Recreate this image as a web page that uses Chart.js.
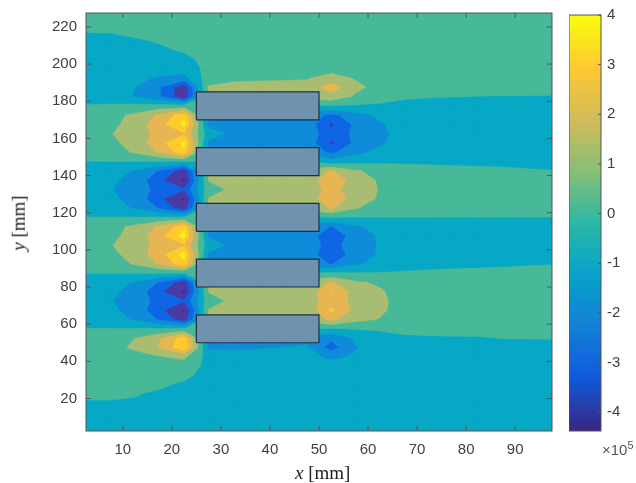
<!DOCTYPE html>
<html>
<head>
<meta charset="utf-8">
<title>Field map</title>
<script src="https://cdn.jsdelivr.net/npm/chart.js@4"></script>
<style>
    html, body { margin: 0; padding: 0; background: #fff; }
    #page { position: relative; width: 636px; height: 483px; overflow: hidden; }
    canvas { position: absolute; top: 0; }
    #fieldChart { left: 0; }
    #barChart { left: 569px; }
    .axisName { position: absolute; font-family: "Liberation Serif", serif; font-size: 19px; color: #222; white-space: nowrap; }
    #xName { left: 295px; top: 462px; }
    #yName { left: -9px; top: 212px; transform: rotate(-90deg); }
    #scaleNote { position: absolute; left: 602px; top: 441px; font-family: "Liberation Sans", sans-serif; font-size: 15px; color: #555; white-space: nowrap; }
    #scaleNote sup { font-size: 11px; line-height: 0; }
</style>
</head>
<body>
<div id="page">
    <canvas id="fieldChart" width="560" height="483"></canvas>
    <canvas id="barChart" width="67" height="483"></canvas>
    <div class="axisName" id="xName"><i>x</i> [mm]</div>
    <div class="axisName" id="yName"><i>y</i> [mm]</div>
    <div id="scaleNote">&times;10<sup>5</sup></div>
</div>
<script>
// Measurement grid, mm
const xNodes = [2.5, 7.5, 12.5, 17.5, 22.5, 27.5, 32.5, 37.5, 42.5, 47.5, 52.5, 57.5, 62.5, 67.5, 72.5, 77.5, 82.5, 87.5, 92.5, 97.5];
const yNodes = [227.5, 222.5, 217.5, 212.5, 207.5, 202.5, 197.5, 192.5, 187.5, 182.5, 177.5, 172.5, 167.5, 162.5, 157.5, 152.5, 147.5, 142.5, 137.5, 132.5, 127.5, 122.5, 117.5, 112.5, 107.5, 102.5, 97.5, 92.5, 87.5, 82.5, 77.5, 72.5, 67.5, 62.5, 57.5, 52.5, 47.5, 42.5, 37.5, 32.5, 27.5, 22.5, 17.5, 12.5, 7.5, 2.5];

// Field values in units of 10^5, one row per yNodes entry
const fieldValues = [
    [.3, .3, .3, .3, .3, .3, .3, .3, .3, .3, .3, .3, .3, .3, .3, .3, .3, .3, .3, .3],
    [.25, .25, .25, .3, .3, .3, .3, .3, .3, .3, .3, .3, .3, .3, .3, .3, .3, .3, .3, .3],
    [.03, .06, .2, .25, .3, .3, .3, .3, .3, .3, .3, .3, .3, .3, .3, .3, .3, .3, .3, .3],
    [-.3, -.28, -.1, .08, .2, .3, .3, .3, .3, .3, .3, .3, .3, .3, .3, .3, .3, .3, .3, .3],
    [-.35, -.35, -.35, -.15, .1, .3, .3, .3, .3, .3, .3, .3, .3, .3, .3, .3, .3, .3, .3, .3],
    [-.4, -.4, -.4, -.4, -.25, .3, .3, .35, .35, .35, .4, .35, .3, .3, .3, .3, .3, .3, .3, .3],
    [-.4, -.42, -.45, -.5, -.5, .25, .45, .5, .55, .55, .6, .5, .4, .35, .3, .3, .3, .3, .3, .3],
    [-.35, -.45, -.7, -1.15, -1.3, .5, .75, .8, .85, .9, 1.4, .9, .6, .45, .35, .3, .3, .3, .3, .3],
    [-.4, -.55, -1, -1.95, -3.7, 1.1, 1.35, 1.4, 1.4, 1.4, 2.5, 1.25, .65, .45, .35, .3, .25, .22, .2, .2],
    [-.4, -.6, -1.05, -1.9, -3.8, 1, 1.3, 1.3, 1.3, 1.3, 1.7, .85, .25, .12, .05, .02, -.01, -.02, -.02, -.03],
    [.06, .15, .25, .3, .35, 0, 0, 0, 0, 0, -.05, -.1, -.1, -.25, -.3, -.35, -.35, -.35, -.35, -.35],
    [.4, .7, 1.2, 2.2, 3.6, -1.3, -1.3, -1.3, -1.3, -1.3, -2.3, -1.4, -.75, -.55, -.45, -.4, -.4, -.35, -.35, -.35],
    [.4, .8, 1.32, 2.68, 4, -1.2, -1.35, -1.35, -1.35, -1.35, -3.15, -1.75, -1.1, -.65, -.5, -.45, -.4, -.4, -.35, -.35],
    [.5, .95, 1.5, 2.3, 2.9, -.6, -1.2, -1.35, -1.35, -1.35, -2.7, -1.75, -1.15, -.75, -.5, -.45, -.4, -.4, -.35, -.35],
    [.4, .8, 1.32, 2.68, 4, -1.2, -1.35, -1.35, -1.35, -1.35, -3.15, -1.75, -1.1, -.65, -.5, -.45, -.4, -.4, -.35, -.35],
    [.3, .6, 1.1, 2.1, 3.6, -1.3, -1.3, -1.3, -1.3, -1.3, -2.2, -1.3, -.75, -.55, -.45, -.4, -.4, -.38, -.38, -.38],
    [-.01, -.01, -.01, -.01, -.02, 0, 0, 0, 0, 0, -.6, -.3, -.2, -.1, -.15, -.2, -.25, -.28, -.32, -.35],
    [-.35, -.6, -1.1, -2.1, -3.6, 1.05, 1.3, 1.3, 1.3, 1.3, 2.1, 1.1, .7, .3, .28, .26, .25, .2, .1, .05],
    [-.4, -.8, -1.35, -2.75, -4.2, 1.05, 1.3, 1.3, 1.3, 1.3, 2.9, 1.4, .9, .55, .45, .4, .4, .4, .4, .4],
    [-.45, -.95, -1.5, -2.3, -2.9, .6, 1.2, 1.3, 1.3, 1.3, 2.4, 1.4, .95, .6, .45, .4, .4, .4, .4, .4],
    [-.4, -.8, -1.35, -2.75, -4.2, 1.05, 1.3, 1.3, 1.3, 1.3, 2.85, 1.4, .9, .55, .45, .4, .4, .4, .4, .4],
    [-.35, -.6, -1.1, -2.1, -3.6, 1.05, 1.3, 1.3, 1.3, 1.3, 2.1, 1.05, .65, .45, .4, .4, .4, .4, .4, .4],
    [.01, .01, .02, .03, .05, 0, 0, 0, 0, 0, -.02, -.02, -.01, -.01, -.01, -.01, -.01, -.01, -.01, -.01],
    [.4, .7, 1.2, 2.2, 3.6, -1.25, -1.3, -1.3, -1.3, -1.3, -2.05, -1.15, -.7, -.5, -.4, -.4, -.4, -.4, -.4, -.4],
    [.4, .8, 1.3, 2.7, 4.1, -1.15, -1.3, -1.3, -1.3, -1.3, -2.9, -1.4, -.9, -.6, -.45, -.4, -.4, -.4, -.4, -.4],
    [.5, .95, 1.5, 2.3, 2.9, -.6, -1.2, -1.3, -1.3, -1.3, -2.5, -1.25, -.95, -.6, -.45, -.4, -.4, -.4, -.4, -.4],
    [.4, .8, 1.3, 2.7, 4.1, -1.15, -1.3, -1.3, -1.3, -1.3, -2.9, -1.4, -.9, -.6, -.45, -.4, -.4, -.4, -.4, -.4],
    [.3, .6, 1.1, 2.1, 3.6, -1.25, -1.3, -1.3, -1.3, -1.3, -2.1, -1.15, -.7, -.4, -.35, -.3, -.25, -.18, -.1, -.05],
    [.01, .01, .01, .01, .02, 0, 0, 0, 0, 0, .1, .02, .05, .1, .2, .25, .3, .35, .4, .4],
    [-.35, -.6, -1.1, -2.1, -3.6, 1.05, 1.3, 1.3, 1.3, 1.3, 2.1, 1.15, .85, .5, .45, .4, .4, .4, .4, .4],
    [-.4, -.8, -1.35, -2.75, -4.2, 1.05, 1.3, 1.3, 1.3, 1.3, 3.05, 1.55, 1.1, .6, .45, .4, .4, .4, .4, .4],
    [-.45, -.95, -1.5, -2.3, -2.9, .6, 1.2, 1.3, 1.3, 1.3, 2.7, 1.6, 1.2, .6, .45, .4, .4, .4, .4, .4],
    [-.4, -.8, -1.35, -2.75, -4.2, 1.05, 1.3, 1.3, 1.3, 1.3, 3.15, 1.7, 1.15, .6, .45, .4, .4, .4, .4, .4],
    [-.35, -.6, -1.1, -2.1, -3.6, 1.05, 1.3, 1.3, 1.3, 1.3, 2.2, 1.25, .95, .5, .45, .4, .4, .4, .4, .4],
    [.01, .01, .02, .03, .05, 0, 0, 0, 0, 0, -.1, .05, .15, .2, .22, .24, .25, .27, .28, .3],
    [.3, .55, 1, 1.9, 3.5, -1.4, -1.4, -1.4, -1.4, -1.4, -1.85, -.85, -.45, -.12, -.08, -.06, -.05, .02, .03, .05],
    [.33, .6, 1.2, 2.1, 3.8, -1.2, -1.2, -1.1, -1, -.85, -2.4, -1.05, -.75, -.5, -.42, -.4, -.38, -.35, -.32, -.3],
    [.3, .45, .6, .95, 1.2, -.42, -.55, -.5, -.5, -.5, -1.35, -.8, -.55, -.45, -.4, -.4, -.4, -.4, -.4, -.4],
    [.28, .38, .45, .55, .6, -.3, -.4, -.4, -.4, -.4, -.45, -.45, -.4, -.4, -.4, -.4, -.4, -.4, -.4, -.4],
    [.25, .28, .3, .3, .25, -.4, -.4, -.4, -.4, -.4, -.4, -.4, -.4, -.4, -.4, -.4, -.4, -.4, -.4, -.4],
    [.22, .22, .2, .15, -.15, -.4, -.4, -.4, -.4, -.4, -.4, -.4, -.4, -.4, -.4, -.4, -.4, -.4, -.4, -.4],
    [.1, .1, .06, -.15, -.3, -.4, -.4, -.4, -.4, -.4, -.4, -.4, -.4, -.4, -.4, -.4, -.4, -.4, -.4, -.4],
    [-.05, -.05, -.1, -.3, -.35, -.4, -.4, -.4, -.4, -.4, -.4, -.4, -.4, -.4, -.4, -.4, -.4, -.4, -.4, -.4],
    [-.4, -.4, -.4, -.4, -.4, -.4, -.4, -.4, -.4, -.4, -.4, -.4, -.4, -.4, -.4, -.4, -.4, -.4, -.4, -.4],
    [-.4, -.4, -.4, -.4, -.4, -.4, -.4, -.4, -.4, -.4, -.4, -.4, -.4, -.4, -.4, -.4, -.4, -.4, -.4, -.4],
    [-.4, -.4, -.4, -.4, -.4, -.4, -.4, -.4, -.4, -.4, -.4, -.4, -.4, -.4, -.4, -.4, -.4, -.4, -.4, -.4]
];

// Contour levels and the colour above each one; bandColors[0] is below the first level
const contourLevels = [-4, -3, -2, -1, 0, 1, 2, 3, 3.8];
const bandColors = ['#3D2E8E', '#4A3AA6', '#0F66E4', '#0F8CD9', '#07A8C5', '#47B999', '#A8BD72', '#E6B653', '#FFCB2B', '#FBF01E'];

// Magnet outlines, mm
const magnetSpan = [25, 50];
const magnetRanges = [[170, 185], [140, 155], [110, 125], [80, 95], [50, 65]];

// Colour bar
const barRange = [-4.38, 4];
const barStops = ['#352A87', '#0F5CDD', '#1481D6', '#06A4CA', '#2EB7A4', '#87BF77', '#D1BB59', '#FEC832', '#F9FB0E'];
const barSteps = 64;

const axisColor = '#555555';
const tickFont = { family: '"Liberation Sans", sans-serif', size: 15 };

// Keep the part of a cell polygon at or above a level
function clipToLevel(cell, level) {
    const kept = [];
    cell.forEach((p, i) => {
        const q = cell[(i + 1) % cell.length];
        if (p.z >= level) kept.push(p);
        if ((p.z >= level) !== (q.z >= level)) {
            const t = (level - p.z) / (q.z - p.z);
            kept.push({ x: p.x + t * (q.x - p.x), y: p.y + t * (q.y - p.y), z: level });
        }
    });
    return kept;
}

const contourPlugin = {
    id: 'contourPlugin',
    beforeDatasetsDraw(chart) {
        const { ctx, chartArea, scales } = chart;
        ctx.save();
        ctx.beginPath();
        ctx.rect(chartArea.left, chartArea.top, chartArea.width, chartArea.height);
        ctx.clip();
        ctx.fillStyle = bandColors[0];
        ctx.fillRect(chartArea.left, chartArea.top, chartArea.width, chartArea.height);

        contourLevels.forEach((level, n) => {
            ctx.beginPath();
            for (let r = 0; r < yNodes.length - 1; r++) {
                for (let c = 0; c < xNodes.length - 1; c++) {
                    const cell = [[r, c], [r, c + 1], [r + 1, c + 1], [r + 1, c]].map(([i, j]) => ({
                        x: scales.x.getPixelForValue(xNodes[j]),
                        y: scales.y.getPixelForValue(yNodes[i]),
                        z: fieldValues[i][j]
                    }));
                    const part = clipToLevel(cell, level);
                    if (part.length < 3) continue;
                    ctx.moveTo(part[0].x, part[0].y);
                    part.slice(1).forEach(p => ctx.lineTo(p.x, p.y));
                    ctx.closePath();
                }
            }
            ctx.fillStyle = bandColors[n + 1];
            ctx.strokeStyle = bandColors[n + 1];
            ctx.lineWidth = 0.5;
            ctx.fill();
            ctx.stroke();
        });
        ctx.restore();
    }
};

// Box with inward ticks on all four sides
const fieldFramePlugin = {
    id: 'fieldFramePlugin',
    afterDraw(chart) {
        const { ctx, chartArea: a, scales } = chart;
        const tick = 5;
        ctx.save();
        ctx.strokeStyle = axisColor;
        ctx.lineWidth = 1;
        ctx.strokeRect(a.left, a.top, a.width, a.height);
        ctx.beginPath();
        scales.x.ticks.forEach(t => {
            const px = scales.x.getPixelForValue(t.value);
            ctx.moveTo(px, a.bottom); ctx.lineTo(px, a.bottom - tick);
            ctx.moveTo(px, a.top); ctx.lineTo(px, a.top + tick);
        });
        scales.y.ticks.forEach(t => {
            const py = scales.y.getPixelForValue(t.value);
            ctx.moveTo(a.left, py); ctx.lineTo(a.left + tick, py);
            ctx.moveTo(a.right, py); ctx.lineTo(a.right - tick, py);
        });
        ctx.stroke();
        ctx.restore();
    }
};

const barFramePlugin = {
    id: 'barFramePlugin',
    afterDraw(chart) {
        const { ctx, chartArea: a, scales } = chart;
        ctx.save();
        ctx.strokeStyle = axisColor;
        ctx.lineWidth = 1;
        ctx.strokeRect(a.left, a.top, a.width, a.height);
        ctx.beginPath();
        scales.y.ticks.forEach(t => {
            const py = scales.y.getPixelForValue(t.value);
            ctx.moveTo(a.right, py); ctx.lineTo(a.right - 3, py);
        });
        ctx.stroke();
        ctx.restore();
    }
};

function hexToRgb(hex) {
    return [1, 3, 5].map(i => parseInt(hex.slice(i, i + 2), 16));
}

function barColor(f) {
    const pos = f * (barStops.length - 1);
    const i = Math.min(Math.floor(pos), barStops.length - 2);
    const a = hexToRgb(barStops[i]);
    const b = hexToRgb(barStops[i + 1]);
    const rgb = a.map((v, k) => Math.round(v + (b[k] - v) * (pos - i)));
    return `rgb(${rgb.join(',')})`;
}

const magnetDatasets = magnetRanges.map(([low, high]) => ({
    data: [
        { x: magnetSpan[0], y: low },
        { x: magnetSpan[1], y: low },
        { x: magnetSpan[1], y: high },
        { x: magnetSpan[0], y: high },
        { x: magnetSpan[0], y: low }
    ],
    showLine: true,
    fill: 'shape',
    pointRadius: 0,
    borderColor: '#1E2F3E',
    borderWidth: 1.2,
    backgroundColor: '#6F93AE'
}));

new Chart(document.getElementById('fieldChart'), {
    type: 'scatter',
    data: { datasets: magnetDatasets },
    plugins: [contourPlugin, fieldFramePlugin],
    options: {
        responsive: false,
        animation: false,
        layout: { padding: { top: 13, right: 8, left: 0, bottom: 0 } },
        plugins: { legend: { display: false }, tooltip: { enabled: false } },
        scales: {
            x: {
                type: 'linear',
                min: 2.5,
                max: 97.5,
                afterFit(scale) { scale.height = 52; scale.paddingLeft = 0; scale.paddingRight = 0; },
                grid: { display: false, drawTicks: false },
                border: { display: false },
                ticks: { stepSize: 10, includeBounds: false, padding: 10, color: '#404040', font: tickFont, maxRotation: 0 }
            },
            y: {
                type: 'linear',
                min: 2.5,
                max: 227.5,
                afterFit(scale) { scale.width = 86; scale.paddingTop = 0; scale.paddingBottom = 0; },
                grid: { display: false, drawTicks: false },
                border: { display: false },
                ticks: { stepSize: 20, includeBounds: false, padding: 9, color: '#404040', font: tickFont }
            }
        }
    }
});

const barDatasets = [];
for (let i = 0; i < barSteps; i++) {
    const size = (barRange[1] - barRange[0]) / barSteps;
    const low = barRange[0] + i * size;
    barDatasets.push({
        data: [[low, Math.min(low + size * 1.1, barRange[1])]],
        backgroundColor: barColor(i / (barSteps - 1)),
        grouped: false,
        barPercentage: 1,
        categoryPercentage: 1
    });
}

new Chart(document.getElementById('barChart'), {
    type: 'bar',
    data: { labels: [''], datasets: barDatasets },
    plugins: [barFramePlugin],
    options: {
        responsive: false,
        animation: false,
        layout: { padding: { top: 14, right: 0, left: 0, bottom: 52 } },
        plugins: { legend: { display: false }, tooltip: { enabled: false } },
        scales: {
            x: { display: false },
            y: {
                position: 'right',
                min: barRange[0],
                max: barRange[1],
                afterFit(scale) { scale.width = 35; },
                grid: { display: false, drawTicks: false },
                border: { display: false },
                ticks: { stepSize: 1, includeBounds: false, padding: 6, color: '#404040', font: tickFont }
            }
        }
    }
});
</script>
</body>
</html>
